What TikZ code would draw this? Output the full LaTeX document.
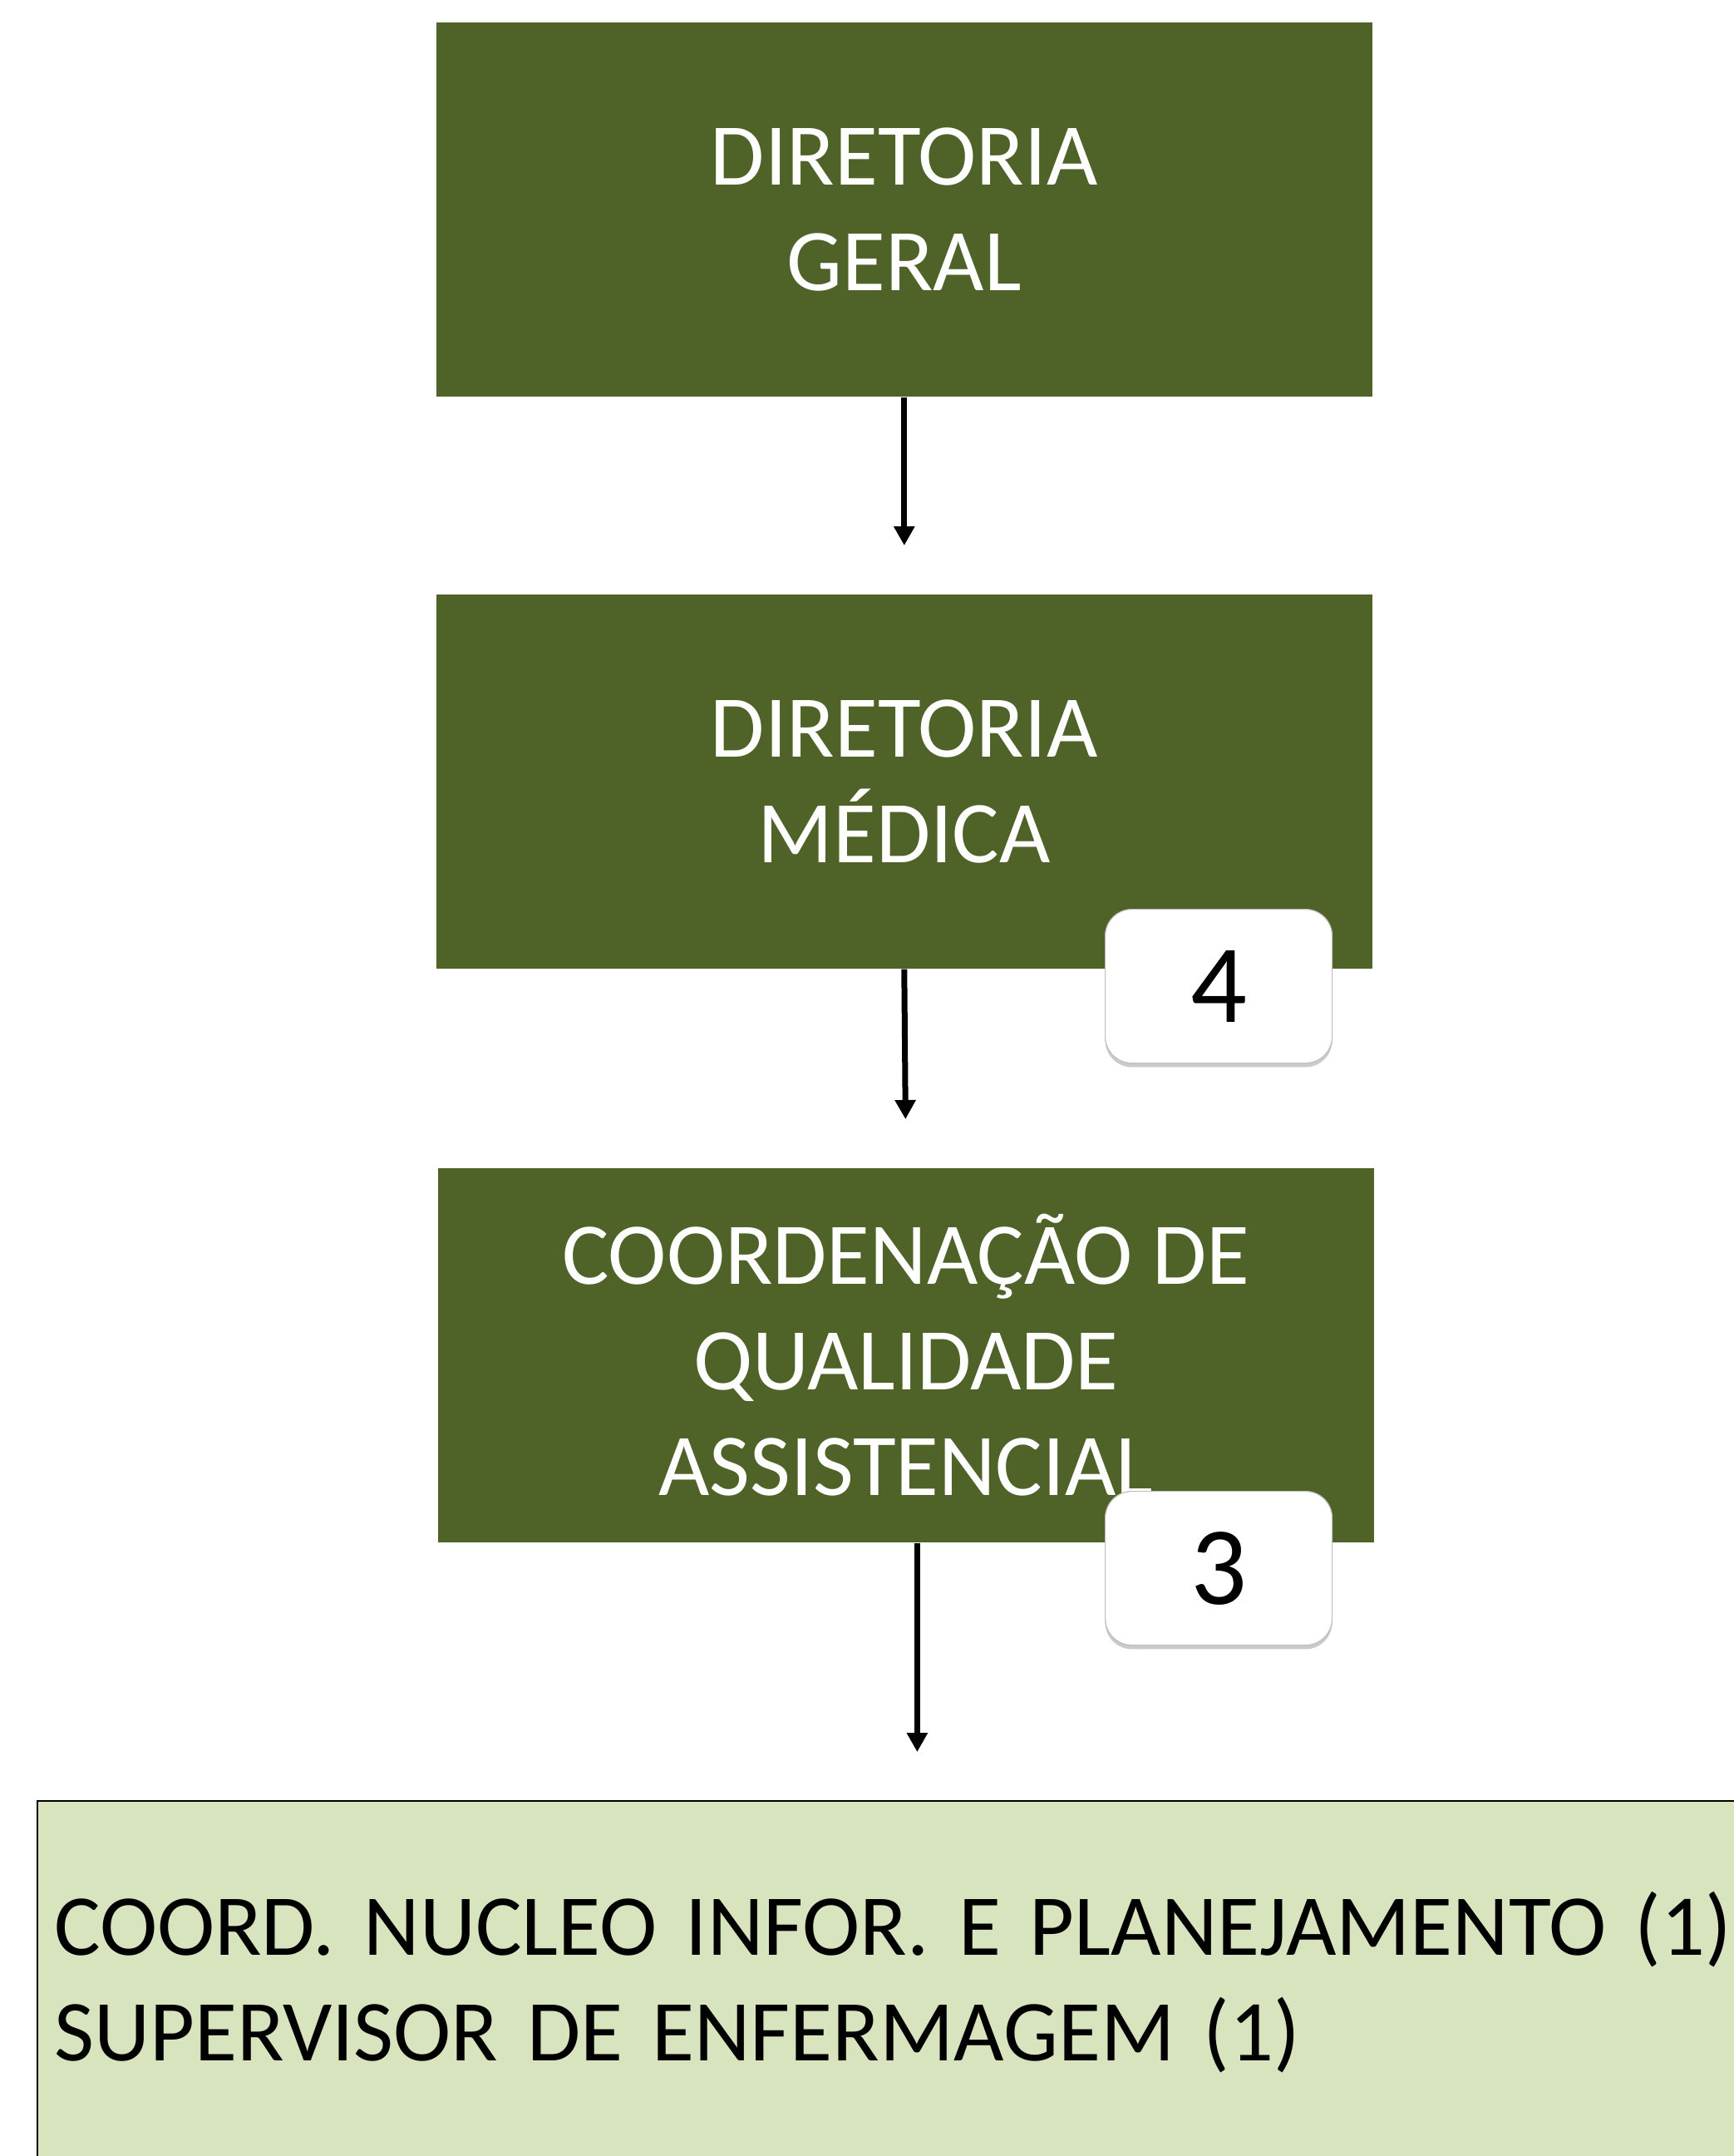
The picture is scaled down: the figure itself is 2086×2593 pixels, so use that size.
\documentclass[tikz,border=0pt]{standalone}
\usepackage{fontspec}
\setmainfont{Carlito}
\usetikzlibrary{arrows.meta,shadows}

\definecolor{vertfonce}{HTML}{4F6228}
\definecolor{vertclair}{HTML}{D8E4BD}

\tikzset{
  boite/.style={anchor=north west,rectangle,fill=vertfonce,text=white,align=center,
    minimum width=281.5pt,minimum height=112.5pt,inner sep=0pt,
    font=\fontsize{26.5}{31.75}\selectfont},
  badge/.style={anchor=north west,rectangle,rounded corners=8pt,fill=white,draw=black!25,line width=0.3pt,
    minimum width=68.25pt,minimum height=46.25pt,inner sep=0pt,
    drop shadow={shadow xshift=0pt,shadow yshift=-1.2pt,fill=black!35,opacity=0.6},
    font=\fontsize{33.5}{40}\selectfont},
  fleche/.style={-{Triangle[width=6pt,length=5.75pt]},line width=1.75pt,shorten >=14.5pt}
}

\begin{document}
\begin{tikzpicture}[x=0.25pt,y=-0.25pt]
      \useasboundingbox (0,0) rectangle (2086,2593);
      \clip (0,0) rectangle (2086,2593);

      % Boîtes de la hiérarchie
      \node[boite] (DG) at (524,26) {DIRETORIA\\GERAL};
      \node[boite] (DM) at (524,714) {DIRETORIA\\MÉDICA};
      \node[boite] (CQ) at (526,1404) {COORDENAÇÃO DE\\QUALIDADE\\ASSISTENCIAL};

      % Pastilles avec les effectifs
      \node[badge] (N4) at (1329,1093) {4};
      \node[badge] (N3) at (1329,1793) {3};

      % Boîte du bas (coupée par le bord)
      \node[anchor=north west,rectangle,fill=vertclair,draw=black,line width=0.6pt,
        minimum width=516.5pt,minimum height=109pt,inner xsep=5pt,inner ysep=0pt,
        text width=540pt,align=left,font=\fontsize{26.1}{31.75}\selectfont]%
      (Bas) at (44,2165) {%
        COORD. NUCLEO INFOR. E PLANEJAMENTO (1)\\
        SUPERVISOR DE ENFERMAGEM (1)};

      % Flèches
      \draw[fleche] (DG.south) -- (DM.north);
      \draw[fleche] (DM.south) -- (CQ.north);
      \draw[fleche] ([xshift=3.4pt]CQ.south) -- ([xshift=3.4pt]CQ.south |- Bas.north);
    \end{tikzpicture}
\end{document}
